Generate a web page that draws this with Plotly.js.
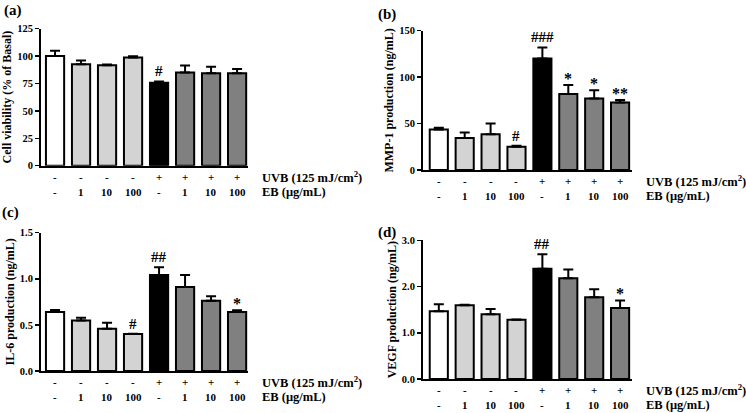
<!DOCTYPE html>
<html>
<head>
<meta charset="utf-8">
<script src="https://cdn.plot.ly/plotly-3.0.1.min.js"></script>
<style>html,body{margin:0;padding:0;background:#fff;}#chart{width:746px;height:413px;}</style>
</head>
<body>
<div id="chart"></div>
<script>
// ---- data ----
const categories = [0, 1, 2, 3, 4, 5, 6, 7];
const uvbLabels = ["-", "-", "-", "-", "+", "+", "+", "+"];
const ebLabels = ["-", "1", "10", "100", "-", "1", "10", "100"];
const barColors = ["#ffffff", "#d3d3d3", "#d3d3d3", "#d3d3d3", "#000000", "#808080", "#808080", "#808080"];

const viability = [100, 92.5, 91.6, 98.6, 75.5, 85, 84.3, 84.3];
const viabilityErr = [4.7, 3.4, 0.5, 1.2, 1.3, 6.3, 5.8, 3.7];
const viabilitySig = ["", "", "", "", "#", "", "", ""];

const mmp1 = [43.5, 34.5, 38.5, 25, 120, 81.8, 77, 72.8];
const mmp1Err = [2, 6, 11.5, 1, 12, 9.7, 9, 2.6];
const mmp1Sig = ["", "", "", "#", "###", "*", "*", "**"];

const il6 = [0.64, 0.548, 0.458, 0.401, 1.041, 0.911, 0.763, 0.64];
const il6Err = [0.021, 0.03, 0.066, 0.004, 0.083, 0.13, 0.047, 0.018];
const il6Sig = ["", "", "", "#", "##", "", "", "*"];

const vegf = [1.464, 1.594, 1.4, 1.283, 2.386, 2.177, 1.766, 1.535];
const vegfErr = [0.151, 0.014, 0.114, 0.005, 0.314, 0.193, 0.174, 0.165];
const vegfSig = ["", "", "", "", "##", "", "", "*"];

const yTitles = ["Cell viability (% of Basal)", "MMP-1 production (ng/mL)", "IL-6 production (ng/mL)", "VEGF production (ng/mL)"];
const panelLabels = ["(a)", "(b)", "(c)", "(d)"];
const yRanges = [[0, 125], [0, 150], [0, 1.5], [0, 3.0]];
const yDticks = [25, 50, 0.5, 1.0];
const yFormats = ["", "", ".1f", ".1f"];
const uvbTitle = "UVB (125 mJ/cm<sup>2</sup>)";
const ebTitle = "EB (μg/mL)";

// ---- layout geometry (pixels) ----
const W = 746, H = 413;
const px = v => v / W;
const py = v => 1 - v / H;
const panels = [
  {vals: viability, err: viabilityErr, sig: viabilitySig, x0: 41, x1: 248, yt: 28.5, yb: 165.7, xr: [-0.54, 7.42], labX: 2, labY: 10},
  {vals: mmp1, err: mmp1Err, sig: mmp1Sig, x0: 423, x1: 632, yt: 30.7, yb: 170, xr: [-0.61, 7.46], labX: 376, labY: 14},
  {vals: il6, err: il6Err, sig: il6Sig, x0: 41, x1: 248, yt: 232.7, yb: 371, xr: [-0.54, 7.42], labX: 0, labY: 212},
  {vals: vegf, err: vegfErr, sig: vegfSig, x0: 423, x1: 632, yt: 240.3, yb: 379, xr: [-0.61, 7.46], labX: 376, labY: 232}
];

const FONT = "Liberation Serif, Times New Roman, serif";
const f = (size) => ({family: FONT, size: size, color: "#000", weight: "bold"});
const B = (t) => "<b>" + t + "</b>";
const traces = [];
const annotations = [];
const layout = {
  width: W, height: H,
  margin: {l: 0, r: 0, t: 0, b: 0},
  paper_bgcolor: "#fff", plot_bgcolor: "rgba(0,0,0,0)",
  showlegend: false,
  font: f(10),
  annotations: annotations
};

panels.forEach((p, i) => {
  const n = i + 1;
  const xa = n === 1 ? "x" : "x" + n;
  const ya = n === 1 ? "y" : "y" + n;
  const xk = n === 1 ? "xaxis" : "xaxis" + n;
  const yk = n === 1 ? "yaxis" : "yaxis" + n;
  traces.push({
    type: "bar", x: categories, y: p.vals, xaxis: xa, yaxis: ya,
    width: 0.7,
    marker: {color: barColors, line: {color: "#000", width: 2}},
    error_y: {type: "data", symmetric: false, array: p.err, arrayminus: p.err.map(() => 0),
              color: "#000", thickness: 2, width: 5},
    hoverinfo: "none"
  });
  layout[xk] = {
    domain: [px(p.x0), px(p.x1)], range: p.xr, anchor: ya,
    showline: true, linecolor: "#000", linewidth: 2,
    showticklabels: false, ticks: "", showgrid: false, zeroline: false, fixedrange: true
  };
  layout[yk] = {
    domain: [py(p.yb), py(p.yt)], range: yRanges[i], anchor: xa,
    dtick: yDticks[i], tick0: 0, tickformat: yFormats[i],
    showline: true, linecolor: "#000", linewidth: 2,
    ticks: "outside", ticklen: 4, tickwidth: 1.5, tickcolor: "#000",
    tickfont: f(10.5),
    showgrid: false, zeroline: false, fixedrange: true,
    title: {text: B(yTitles[i]), font: f(12), standoff: 3}
  };
  categories.forEach((c, k) => {
    annotations.push({xref: xa, yref: ya + " domain", x: c, y: 0, yshift: -11, yanchor: "middle",
      text: B(uvbLabels[k]), showarrow: false, font: f(11)});
    annotations.push({xref: xa, yref: ya + " domain", x: c, y: 0, yshift: -26, yanchor: "middle",
      text: B(ebLabels[k]), showarrow: false, font: f(11)});
    if (p.sig[k]) {
      const isHash = p.sig[k].indexOf("#") >= 0;
      annotations.push({xref: xa, yref: ya, x: c, y: p.vals[k] + p.err[k], yanchor: "bottom",
        yshift: isHash ? 0 : -4, text: B(p.sig[k]), showarrow: false,
        font: f(isHash ? 15 : 16)});
    }
  });
  annotations.push({xref: xa + " domain", yref: ya + " domain", x: 1, xshift: 12, xanchor: "left",
    y: 0, yshift: -11, yanchor: "middle", text: B(uvbTitle), showarrow: false, font: f(12.5)});
  annotations.push({xref: xa + " domain", yref: ya + " domain", x: 1, xshift: 12, xanchor: "left",
    y: 0, yshift: -26, yanchor: "middle", text: B(ebTitle), showarrow: false, font: f(12.5)});
  annotations.push({xref: "paper", yref: "paper", x: px(p.labX), y: py(p.labY), xanchor: "left", yanchor: "middle",
    text: B(panelLabels[i]), showarrow: false, font: f(15)});
});

Plotly.newPlot("chart", traces, layout, {staticPlot: true, displayModeBar: false});
</script>
</body>
</html>
